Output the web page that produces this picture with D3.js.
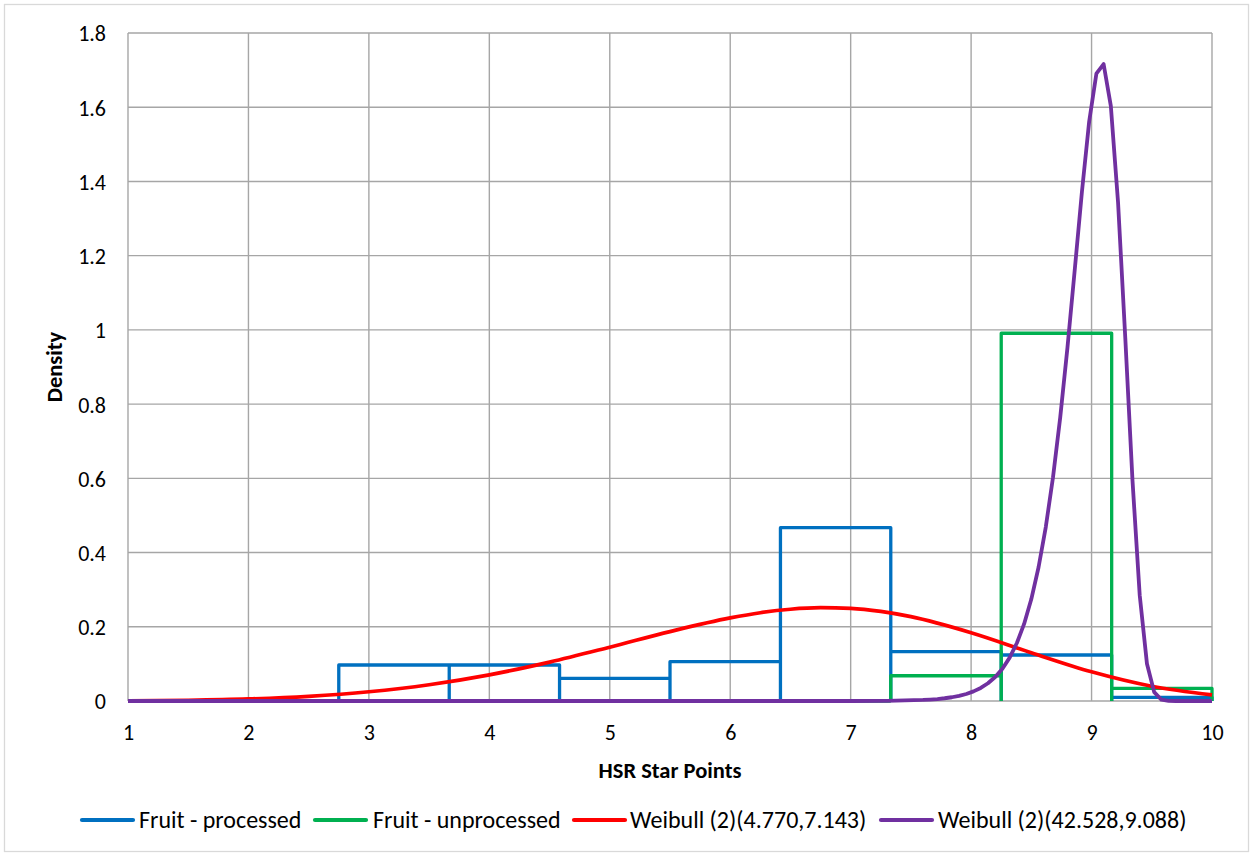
<!DOCTYPE html>
<html>
<head>
<meta charset="utf-8">
<script src="https://cdn.jsdelivr.net/npm/d3@7"></script>
<style>
  html, body { margin: 0; padding: 0; background: #fff; }
  svg { display: block; }
  text { font-family: Calibri, Carlito, "Open Sans", sans-serif; fill: #000; }
</style>
</head>
<body>
<svg id="chart" width="1253" height="856"></svg>
<script>
// Histogram bins (HSR star points) and densities per group
const binEdges = [2.75, 3.667, 4.583, 5.5, 6.417, 7.333, 8.25, 9.167, 10];
const processed = [0.097, 0.097, 0.061, 0.106, 0.467, 0.133, 0.124, 0.010];
const unprocessed = [0, 0, 0, 0, 0, 0.068, 0.991, 0.034];

// Fitted Weibull density, shape 4.770 / scale 7.143
const weibullAX = [1, 1.5, 2, 2.5, 3, 3.5, 4, 4.5, 5, 5.5, 6, 6.25, 6.5, 6.75, 7, 7.25, 7.5, 8, 8.5, 9, 9.5, 10];
const weibullAY = [0.0004, 0.0019, 0.0055, 0.0127, 0.0250, 0.0439, 0.0705, 0.1048, 0.1450, 0.1870, 0.2239, 0.2379, 0.2473, 0.2514, 0.2496, 0.2414, 0.2272, 0.1839, 0.1300, 0.0786, 0.0397, 0.0164];

// Fitted Weibull density, shape 42.528 / scale 9.088
const weibullBX = [1, 7.0, 7.3, 7.6, 7.66, 7.72, 7.78, 7.84, 7.90, 7.96, 8.02, 8.08, 8.14, 8.20, 8.26, 8.32, 8.38, 8.44, 8.50, 8.56, 8.62, 8.68, 8.74, 8.80, 8.86, 8.92, 8.98, 9.04, 9.10, 9.16, 9.22, 9.28, 9.34, 9.40, 9.46, 9.52, 9.58, 9.64, 9.70, 10];
const weibullBY = [0, 0, 0.0005, 0.0028, 0.0039, 0.0053, 0.0074, 0.0101, 0.0139, 0.0189, 0.0259, 0.0352, 0.0478, 0.0646, 0.0870, 0.1168, 0.1562, 0.2077, 0.2746, 0.3603, 0.4687, 0.6029, 0.7646, 0.9527, 1.1602, 1.3718, 1.5609, 1.6904, 1.7164, 1.6035, 1.3437, 0.9787, 0.5938, 0.2846, 0.1005, 0.0239, 0.0034, 0.0003, 0, 0];

const xTicks = [1, 2, 3, 4, 5, 6, 7, 8, 9, 10];
const yTicks = [0, 0.2, 0.4, 0.6, 0.8, 1, 1.2, 1.4, 1.6, 1.8];

const seriesNames = ["Fruit - processed", "Fruit - unprocessed", "Weibull (2)(4.770,7.143)", "Weibull (2)(42.528,9.088)"];
const seriesColors = ["#0070C0", "#00B050", "#FF0000", "#7030A0"];

const svg = d3.select("#chart");
const W = 1253, H = 856;
const plot = { left: 128, right: 1212, top: 33, bottom: 701 };
const FONT = 'Calibri, Carlito, "Open Sans", sans-serif';

// outer chart border
svg.append("rect")
  .attr("x", 4.5).attr("y", 4.5)
  .attr("width", W - 9).attr("height", H - 9)
  .attr("fill", "#fff").attr("stroke", "#d9d9d9").attr("stroke-width", 1.3);

const x = d3.scaleLinear().domain([1, 10]).range([plot.left, plot.right]);
const y = d3.scaleLinear().domain([0, 1.8]).range([plot.bottom, plot.top]);

// gridlines
const grid = svg.append("g").attr("stroke", "#a6a6a6").attr("stroke-width", 1.4);
grid.selectAll("line.v").data(xTicks).join("line")
  .attr("x1", d => x(d)).attr("x2", d => x(d))
  .attr("y1", plot.top).attr("y2", plot.bottom);
grid.selectAll("line.h").data(yTicks).join("line")
  .attr("x1", plot.left).attr("x2", plot.right)
  .attr("y1", d => y(d)).attr("y2", d => y(d));

// axes (labels only; lines come from the grid)
const xAxis = svg.append("g")
  .attr("transform", `translate(0,${plot.bottom})`)
  .call(d3.axisBottom(x).tickValues(xTicks).tickSize(0).tickFormat(d3.format("d")));
xAxis.select(".domain").remove();
xAxis.selectAll("text").attr("font-size", 22).attr("y", 38.5).attr("dy", 0)
  .style("font-family", FONT).attr("fill", "#000");

const yAxis = svg.append("g")
  .attr("transform", `translate(${plot.left - 22},0)`)
  .call(d3.axisLeft(y).tickValues(yTicks).tickSize(0).tickFormat(d => d3.format("~g")(d)));
yAxis.select(".domain").remove();
yAxis.selectAll("text").attr("font-size", 22).attr("x", 0).attr("dy", "0.36em")
  .style("font-family", FONT).attr("fill", "#000");

// axis titles
svg.append("text")
  .attr("x", 670).attr("y", 778)
  .attr("text-anchor", "middle").attr("font-size", 22.5).attr("font-weight", "bold")
  .text("HSR Star Points");
svg.append("text")
  .attr("transform", `translate(62,${(plot.top + plot.bottom) / 2}) rotate(-90)`)
  .attr("text-anchor", "middle").attr("font-size", 22.5).attr("font-weight", "bold")
  .text("Density");

// histogram outlines: each bin is an open rectangle standing on the baseline
function binPath(values) {
  let p = "";
  values.forEach((v, i) => {
    const x0 = x(binEdges[i]), x1 = x(binEdges[i + 1]);
    p += `M${x0},${y(0)}L${x0},${y(v)}L${x1},${y(v)}L${x1},${y(0)}`;
  });
  return p;
}

svg.append("path").attr("d", binPath(processed))
  .attr("fill", "none").attr("stroke", seriesColors[0]).attr("stroke-width", 3.3)
  .attr("stroke-linejoin", "round");
svg.append("path").attr("d", binPath(unprocessed))
  .attr("fill", "none").attr("stroke", seriesColors[1]).attr("stroke-width", 3.3)
  .attr("stroke-linejoin", "round");

const smoothLine = d3.line().x(d => x(d[0])).y(d => y(d[1])).curve(d3.curveMonotoneX);
const straightLine = d3.line().x(d => x(d[0])).y(d => y(d[1]));

svg.append("path").datum(d3.zip(weibullAX, weibullAY)).attr("d", smoothLine)
  .attr("fill", "none").attr("stroke", seriesColors[2]).attr("stroke-width", 3.7)
  .attr("stroke-linejoin", "round");
svg.append("path").datum(d3.zip(weibullBX, weibullBY)).attr("d", straightLine)
  .attr("fill", "none").attr("stroke", seriesColors[3]).attr("stroke-width", 3.8)
  .attr("stroke-linejoin", "round");

// legend
const legendItems = [
  { line: 80, text: 139 },
  { line: 313, text: 373 },
  { line: 572, text: 630 },
  { line: 879, text: 938 }
];
const legend = svg.append("g");
legendItems.forEach((it, i) => {
  legend.append("line")
    .attr("x1", it.line + 2).attr("x2", it.line + 53)
    .attr("y1", 820).attr("y2", 820)
    .attr("stroke", seriesColors[i]).attr("stroke-width", 4.2).attr("stroke-linecap", "round");
  legend.append("text")
    .attr("x", it.text).attr("y", 820).attr("dy", "0.35em")
    .attr("font-size", 24).text(seriesNames[i]);
});
</script>
</body>
</html>
